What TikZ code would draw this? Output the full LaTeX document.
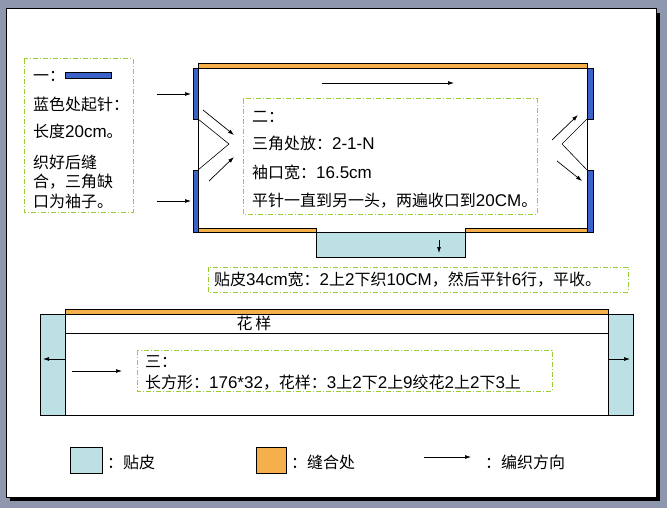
\documentclass[tikz,border=0pt]{standalone}
\usepackage{fontspec}
\setmainfont{Liberation Sans}
\newfontfamily\cjkfont[Scale=0.94]{Noto Sans CJK SC}
\XeTeXinterchartokenstate=1
\newXeTeXintercharclass\CJKcls
\newcount\cjkc
\cjkc="2E80
\loop \XeTeXcharclass\cjkc=\CJKcls \advance\cjkc by 1 \ifnum\cjkc<"A000 \repeat
\cjkc="FF00
\loop \XeTeXcharclass\cjkc=\CJKcls \advance\cjkc by 1 \ifnum\cjkc<"FFF0 \repeat
\XeTeXinterchartoks 0 \CJKcls = {\cjkfont}
\XeTeXinterchartoks 4095 \CJKcls = {\cjkfont}
\XeTeXinterchartoks \CJKcls 0 = {\rmfamily}
\usetikzlibrary{arrows.meta}
\definecolor{bg}{HTML}{8E97AE}
\definecolor{bluebar}{HTML}{3A62C9}
\definecolor{seam}{HTML}{F5B04C}
\definecolor{patch}{HTML}{BDE0E4}
\definecolor{note}{HTML}{9ACD32}
\tikzset{
  notebox/.style={draw=note, line width=1pt, dash pattern=on 5pt off 2pt on 1pt off 2pt},
  txt/.style={anchor=west, inner sep=0pt, font=\fontsize{17}{19}\selectfont},
  dir/.style={-{Latex[length=6pt,width=4pt]}, line width=0.7pt},
  outline/.style={draw=black, line width=0.9pt},
  bar/.style={fill=bluebar, draw=black, line width=0.5pt},
  seamfill/.style={fill=seam, draw=black, line width=0.6pt},
  patchfill/.style={fill=patch, draw=black, line width=0.9pt},
  thin/.style={line width=0.6pt},
}
\begin{document}
\begin{tikzpicture}[x=1pt,y=-1pt]
\useasboundingbox (0,0) rectangle (667,508);
% slide
\fill[bg] (0,0) rectangle (667,508);
\fill[black] (10,13) rectangle (660,501);
\filldraw[fill=white, draw=black, line width=1pt] (6,9) rectangle (656,497);

% ---- box 1
\draw[notebox] (24,59) rectangle (133,212);
\draw[bar] (65,72) rectangle (111,78);
\node[txt] (t1a) at (33,76) {一：};
\node[txt] (t1b) at (33,104) {蓝色处起针：};
\node[txt] (t1c) at (33,131) {长度20cm。};
\node[txt] (t1d) at (33,162) {织好后缝};
\node[txt] (t1e) at (33,182) {合，三角缺};
\node[txt] (t1f) at (33,201) {口为袖子。};

% ---- main upper piece
\draw[seamfill] (198,63) rectangle (587,68);
\draw[outline, fill=white] (198,68) rectangle (587,232);
\draw[seamfill] (198,228) rectangle (316,232);
\draw[seamfill] (465,228) rectangle (587,232);
\draw[patchfill] (316,232) rectangle (465,257);
\draw[outline] (316,228) -- (316,232) (465,228) -- (465,232);
\draw[bar] (193,68) rectangle (198,119);
\draw[bar] (193,170) rectangle (198,232);
\draw[bar] (587,68) rectangle (593,119);
\draw[bar] (587,170) rectangle (593,232);
\draw[thin] (198,119) -- (229,144) -- (198,170);
\draw[thin] (587,119) -- (562,144) -- (587,170);

\coordinate (la1) at (157,94);  \coordinate (lb1) at (191,94);
\coordinate (la2) at (157,201); \coordinate (lb2) at (191,201);
\draw[dir] (la1) -- (lb1);
\draw[dir] (la2) -- (lb2);
\coordinate (ta) at (322,83); \coordinate (tb) at (454,83);
\draw[dir] (ta) -- (tb);
\coordinate (da) at (439,240); \coordinate (db) at (439,253);
\draw[dir] (da) -- (db);
\coordinate (c1a) at (203,110); \coordinate (c1b) at (234,135);
\coordinate (c2a) at (209,181); \coordinate (c2b) at (234,157);
\draw[dir] (c1a) -- (c1b);
\draw[dir] (c2a) -- (c2b);
\coordinate (c3a) at (552,140); \coordinate (c3b) at (578,115);
\coordinate (c4a) at (557,161); \coordinate (c4b) at (582,181);
\draw[dir] (c3a) -- (c3b);
\draw[dir] (c4a) -- (c4b);

% ---- box 2
\draw[notebox] (243,99) rectangle (537,214);
\node[txt] (t2a) at (252,117) {二：};
\node[txt] (t2b) at (252,143) {三角处放：2-1-N};
\node[txt] (t2c) at (252,172) {袖口宽：16.5cm};
\node[txt] (t2d) at (252,201) {平针一直到另一头，两遍收口到20CM。};

% ---- box 4
\draw[notebox] (208,267) rectangle (628,292);
\node[txt] (t4) at (214,280) {贴皮34cm宽：2上2下织10CM，然后平针6行，平收。};

% ---- lower piece
\draw[seamfill] (65,309) rectangle (608,314);
\draw[outline, fill=white] (40,314) rectangle (633,415);
\draw[patchfill] (40,314) rectangle (65,415);
\draw[patchfill] (608,314) rectangle (633,415);
\draw[outline] (65,333) -- (608,333);
\node[txt, anchor=center] (t3h) at (254,323) {花\hspace{3pt}样};
\coordinate (ea) at (65,359); \coordinate (eb) at (43,359);
\coordinate (fa) at (608,359); \coordinate (fb) at (630,359);
\coordinate (ga) at (72,371); \coordinate (gb) at (122,371);
\draw[dir] (ea) -- (eb);
\draw[dir] (fa) -- (fb);
\draw[dir] (ga) -- (gb);

% ---- box 3
\draw[notebox] (137,350) rectangle (552,391);
\node[txt] (t3a) at (145,362) {三：};
\node[txt] (t3b) at (145,383) {长方形：176*32，花样：3上2下2上9绞花2上2下3上};

% ---- legend
\draw[patchfill, line width=0.6pt] (70,447) rectangle (102,473);
\node[txt] (l1) at (107,462) {：贴皮};
\draw[seamfill] (256,447) rectangle (286,473);
\node[txt] (l2) at (291,462) {：缝合处};
\coordinate (lga) at (424,457); \coordinate (lgb) at (471,457);
\draw[dir] (lga) -- (lgb);
\node[txt] (l3) at (485,462) {：编织方向};
\end{tikzpicture}
\end{document}
